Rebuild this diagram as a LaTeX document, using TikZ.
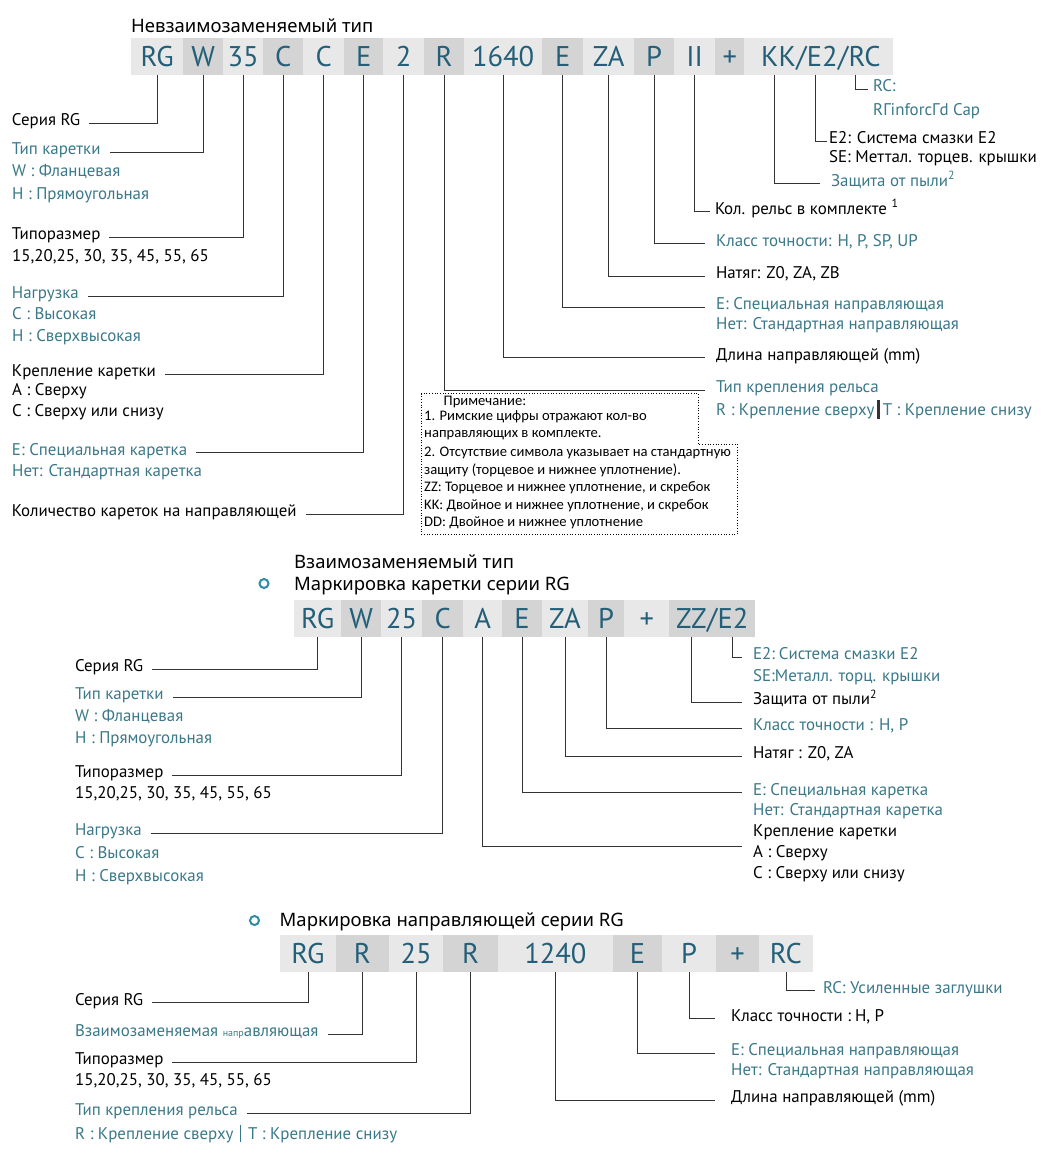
\documentclass[tikz,border=0pt]{standalone}
\usepackage{fontspec}
\setmainfont{PT Sans}
\newfontfamily\titlefont{Noto Sans}
\newfontfamily\notefont{Carlito}
\usetikzlibrary{positioning}
\definecolor{codeblue}{HTML}{235F78}
\definecolor{tealtxt}{HTML}{3A7888}
\definecolor{cellA}{HTML}{E8E8E8}
\definecolor{cellB}{HTML}{D4D4D4}
\definecolor{linegray}{HTML}{333333}
\definecolor{ringblue}{HTML}{2E8BA5}

\begin{document}
\begin{tikzpicture}[x=1pt,y=-1pt,
    lab/.style={inner sep=0pt, anchor=west, text height=0.7em, text depth=0.2em, font=\fontsize{16.9}{19}\selectfont},
    llab/.style={lab, outer xsep=9pt},
    rlab/.style={lab, outer xsep=11pt},
    hint/.style={text=tealtxt},
    cell/.style={anchor=west, inner sep=0pt, minimum height=37pt, text height=20pt, text depth=0pt, text=codeblue, font=\fontsize{28.5}{30}\selectfont},
    lt/.style={cell, fill=cellA, minimum width=#1pt},
    dk/.style={cell, fill=cellB, minimum width=#1pt},
    piece/.style={anchor=west, inner sep=0pt, text height=20pt, text depth=0pt, text=codeblue, font=\fontsize{28.5}{30}\selectfont},
    conn/.style={draw=linegray, line width=0.9pt},
    title/.style={inner sep=0pt, anchor=base west, font=\titlefont\fontsize{18.5}{21}\selectfont},
    note/.style={inner sep=0pt, anchor=west, font=\notefont\fontsize{14.6}{16}\selectfont},
    ring/.style={circle, draw=ringblue, line width=2pt, minimum size=9pt, inner sep=0pt}]
    \useasboundingbox (0,0) rectangle (1047,1157);

    % --- non-interchangeable type
    \node[title] (ttop) at (131,32) {Невзаимозаменяемый тип};
    \node[lt=52] (tRG) at (131,56) {RG};
    \node[dk=40] (tW) at (183,56) {W};
    \node[lt=40] (t35) at (223,56) {35};
    \node[dk=40] (tC1) at (263,56) {C};
    \node[lt=41] (tC2) at (303,56) {C};
    \node[dk=39] (tE1) at (344,56) {E};
    \node[lt=41] (t2) at (383,56) {2};
    \node[dk=40] (tR) at (424,56) {R};
    \node[lt=78] (tL) at (464,56) {1640};
    \node[dk=41] (tE2r) at (542,56) {E};
    \node[lt=51] (tZA) at (583,56) {ZA};
    \node[dk=40] (tP) at (634,56) {P};
    \node[lt=41] (tII) at (674,56) {II};
    \node[dk=29] (tPlus) at (715,56) {+};
    \node[lt=149] (tKR) at (744,56) {};
    \node[piece] (tKK) at (761,56) {KK};
    \node[piece, right=0pt of tKK] (tS1) {/};
    \node[piece, right=0pt of tS1] (tE2) {E2};
    \node[piece, right=0pt of tE2] (tS2) {/};
    \node[piece, right=0pt of tS2] (tRC) {RC};

    \node[llab] (lser) at (3,123) {Серия RG};
    \node[llab, hint] (ltyp) at (3,152) {Тип каретки};
    \node[lab, hint] (ltypW) at (12,174) {W : Фланцевая};
    \node[lab, hint] (ltypH) at (12,196.5) {H : Прямоугольная};
    \node[llab] (lsize) at (3,237) {Типоразмер};
    \node[lab] (lsizeN) at (12,258.5) {15,20,25, 30, 35, 45, 55, 65};
    \node[llab, hint] (lload) at (3,296) {Нагрузка};
    \node[lab, hint] (lloadC) at (12,316.5) {C : Высокая};
    \node[lab, hint] (lloadH) at (12,339) {H : Сверхвысокая};
    \node[llab] (lmnt) at (3,374) {Крепление каретки};
    \node[lab] (lmntA) at (12,392.5) {A : Сверху};
    \node[lab] (lmntC) at (12,413.5) {C : Сверху или снизу};
    \node[llab, hint] (lspec) at (3,452.5) {E: Специальная каретка};
    \node[lab, hint] (lspecN) at (12,473.5) {Нет: Стандартная каретка};
    \node[llab] (lnum) at (3,514) {Количество кареток на направляющей};

    \draw[conn] (tRG.south) |- (lser.east);
    \draw[conn] (tW.south) |- (ltyp.east);
    \draw[conn] (t35.south) |- (lsize.east);
    \draw[conn] (tC1.south) |- (lload.east);
    \draw[conn] (tC2.south) |- (lmnt.east);
    \draw[conn] (tE1.south) |- (lspec.east);
    \draw[conn] (t2.south) |- (lnum.east);

    \node[rlab, hint, outer xsep=5pt] (rrc) at (868,89) {RC:};
    \node[lab, hint] (rrcB) at (873,113) {RГinforcГd Cap};
    \node[rlab, outer xsep=2pt] (re2) at (827,141) {E2: Система смазки E2};
    \node[lab] (re2B) at (829,160) {SE: Меттал. торцев. крышки};
    \node[rlab, hint] (rdust) at (820,183.5) {Защита от пыли\textsuperscript{2}};
    \node[rlab, outer xsep=5pt] (rcnt) at (710,211.5) {Кол. рельс в комплекте \textsuperscript{1}};
    \node[rlab, hint] (rcls) at (705,243.5) {Класс точности: H, P, SP, UP};
    \node[rlab] (rpre) at (705,276) {Натяг: Z0, ZA, ZB};
    \node[rlab, hint] (rspec) at (705,307) {E: Специальная направляющая};
    \node[lab, hint] (rspecN) at (716,327) {Нет: Стандартная направляющая};
    \node[rlab] (rlen) at (705,357.5) {Длина направляющей (mm)};
    \node[rlab, hint] (rfix) at (705,390) {Тип крепления рельса};
    \node[lab, hint] (rfixB) at (716,413) {R : Крепление сверху\hspace{3pt}\textcolor{black!80}{\rule[-0.2em]{2.4pt}{1.1em}}\hspace{3pt}T : Крепление снизу};

    \draw[conn] ([xshift=7pt]tRC.south west |- tKR.south) |- (rrc.west);
    \draw[conn] ([xshift=9pt]tE2.south west |- tKR.south) |- (re2.west);
    \draw[conn] ([xshift=13pt]tKK.south west |- tKR.south) |- (rdust.west);
    \draw[conn] (tII.south) |- (rcnt.west);
    \draw[conn] (tP.south) |- (rcls.west);
    \draw[conn] (tZA.south) |- (rpre.west);
    \draw[conn] (tE2r.south) |- (rspec.west);
    \draw[conn] (tL.south) |- (rlen.west);
    \draw[conn] (tR.south) |- (rfix.west);

    % note box
    \draw[dotted, line width=0.7pt] (421,393) -- (698,393) -- (698,444) -- (737,444) -- (737,534) -- (421,534) -- cycle;
    \node[note] (n0) at (443.5,401.5) {Примечание:};
    \node[note] (n1) at (424,417) {1. Римские цифры отражают кол-во};
    \node[note] (n2) at (424,435) {направляющих в комплекте.};
    \node[note] (n3) at (424,452.5) {2. Отсутствие символа указывает на стандартную};
    \node[note] (n4) at (424,470) {защиту (торцевое и нижнее уплотнение).};
    \node[note] (n5) at (424,487.5) {ZZ: Торцевое и нижнее уплотнение, и скребок};
    \node[note] (n6) at (424,505.5) {KK: Двойное и нижнее уплотнение, и скребок};
    \node[note] (n7) at (424,523) {DD: Двойное и нижнее уплотнение};

    % --- interchangeable type, block
    \node[title] (tmid) at (294,568) {Взаимозаменяемый тип};
    \node[ring] (bmid) at (264,583.5) {};
    \node[title] (tmidB) at (294,590.5) {Маркировка каретки серии RG};
    \node[lt=47] (mRG) at (294,618.5) {RG};
    \node[dk=40] (mW) at (341,618.5) {W};
    \node[lt=41] (m25) at (381,618.5) {25};
    \node[dk=41] (mC) at (422,618.5) {C};
    \node[lt=39] (mA) at (463,618.5) {A};
    \node[dk=39.5] (mE) at (502,618.5) {E};
    \node[lt=46.5] (mZA) at (541.5,618.5) {ZA};
    \node[dk=36] (mP) at (588,618.5) {P};
    \node[lt=45] (mPlus) at (624,618.5) {+};
    \node[dk=86] (mZE) at (669,618.5) {};
    \node[piece] (mZZ) at (676,618.5) {ZZ};
    \node[piece, right=0pt of mZZ] (mS1) {/};
    \node[piece, right=0pt of mS1] (mE2) {E2};

    \node[llab] (mser) at (66,669) {Серия RG};
    \node[llab, hint] (mtyp) at (66,697) {Тип каретки};
    \node[lab, hint] (mtypW) at (75,719) {W : Фланцевая};
    \node[lab, hint] (mtypH) at (75,740.5) {H : Прямоугольная};
    \node[llab] (msize) at (66,775) {Типоразмер};
    \node[lab] (msizeN) at (75,796) {15,20,25, 30, 35, 45, 55, 65};
    \node[llab, hint] (mload) at (66,833) {Нагрузка};
    \node[lab, hint] (mloadC) at (75,856) {C : Высокая};
    \node[lab, hint] (mloadH) at (75,878.5) {H : Сверхвысокая};

    \draw[conn] (mRG.south) |- (mser.east);
    \draw[conn] (mW.south) |- (mtyp.east);
    \draw[conn] (m25.south) |- (msize.east);
    \draw[conn] (mC.south) |- (mload.east);

    \node[rlab, hint] (me2) at (742,657) {E2:\hspace{4pt}Система смазки E2};
    \node[lab, hint] (me2B) at (753,679) {SE:Металл. торц. крышки};
    \node[rlab] (mdust) at (742,702) {Защита от пыли\textsuperscript{2}};
    \node[rlab, hint] (mcls) at (742,728) {Класс точности : H, P};
    \node[rlab] (mpre) at (742,756) {Натяг : Z0, ZA};
    \node[rlab, hint] (mspec) at (742,792.5) {E: Специальная каретка};
    \node[lab, hint] (mspecN) at (753,813) {Нет: Стандартная каретка};
    \coordinate (mmnt) at (742,846);
    \node[lab] (mmntT) at (753,834) {Крепление каретки};
    \node[lab] (mmntA) at (753,855) {A : Сверху};
    \node[lab] (mmntC) at (753,876) {C : Сверху или снизу};

    \draw[conn] (mE2 |- mZE.south) |- (me2.west);
    \draw[conn] (mZZ |- mZE.south) |- (mdust.west);
    \draw[conn] (mP.south) |- (mcls.west);
    \draw[conn] (mZA.south) |- (mpre.west);
    \draw[conn] (mE.south) |- (mspec.west);
    \draw[conn] (mA.south) |- (mmnt);

    % --- interchangeable type, rail
    \node[ring] (bbot) at (254.5,920.5) {};
    \node[title] (tbot) at (279.5,926.5) {Маркировка направляющей серии RG};
    \node[lt=55.5] (bRG) at (280,953) {RG};
    \node[dk=53.5] (bR1) at (335.5,953) {R};
    \node[lt=54] (b25) at (389,953) {25};
    \node[dk=55] (bR2) at (443,953) {R};
    \node[lt=114.5] (bL) at (498,953) {1240};
    \node[dk=49.5] (bE) at (612.5,953) {E};
    \node[lt=54] (bP) at (662,953) {P};
    \node[dk=42.5] (bPlus) at (716,953) {+};
    \node[lt=54.5] (bRC) at (758.5,953) {RC};

    \node[llab] (bser) at (66,1002.5) {Серия RG};
    \node[llab, hint] (brail) at (66,1034) {Взаимозаменяемая {\fontsize{10}{10}\selectfont напр}авляющая};
    \node[llab] (bsize) at (66,1062) {Типоразмер};
    \node[lab] (bsizeN) at (75,1083) {15,20,25, 30, 35, 45, 55, 65};
    \node[llab, hint] (bfix) at (66,1113) {Тип крепления рельса};
    \node[lab, hint] (bfixB) at (75,1136.5) {R : Крепление сверху\hspace{7pt}\rule[-0.2em]{0.7pt}{1.05em}\hspace{7pt}T : Крепление снизу};

    \draw[conn] (bRG.south) |- (bser.east);
    \draw[conn] (bR1.south) |- (brail.east);
    \draw[conn] (b25.south) |- (bsize.east);
    \draw[conn] (bR2.south) |- (bfix.east);

    \node[rlab, hint, outer xsep=8pt] (brc) at (815,990.5) {RC: Усиленные заглушки};
    \node[rlab, outer xsep=16pt] (bcls) at (715,1018.5) {Класс точности :\hspace{4pt}H, P};
    \node[rlab, hint, outer xsep=16pt] (bspec) at (715,1053) {E: Специальная направляющая};
    \node[lab, hint] (bspecN) at (731,1072.5) {Нет: Стандартная направляющая};
    \node[rlab, outer xsep=16pt] (blen) at (715,1100) {Длина направляющей (mm)};

    \draw[conn] (bRC.south) |- (brc.west);
    \draw[conn] (bP.south) |- (bcls.west);
    \draw[conn] (bE.south) |- (bspec.west);
    \draw[conn] (bL.south) |- (blen.west);
\end{tikzpicture}
\end{document}
